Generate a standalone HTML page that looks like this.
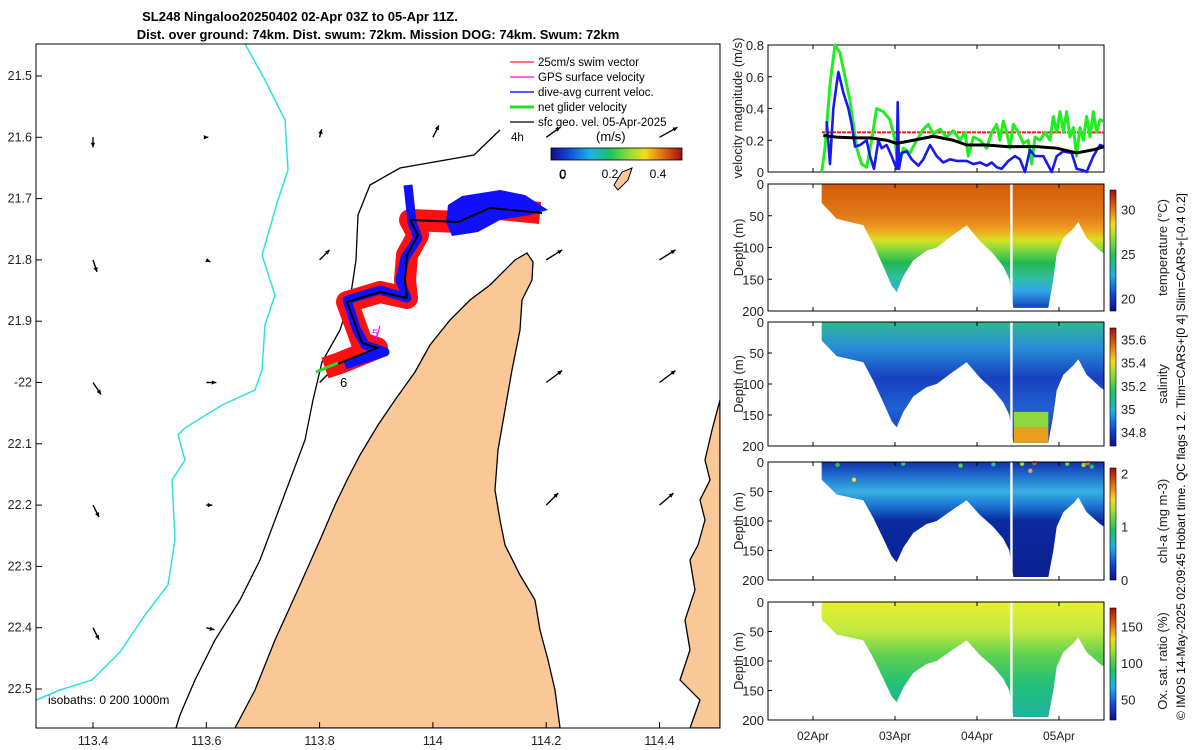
<!DOCTYPE html>
<html><head><meta charset="utf-8"><style>
html,body{margin:0;padding:0;background:#fff;}
svg{display:block;font-family:"Liberation Sans",sans-serif;}
</style></head><body>
<svg id="fig" width="1200" height="750" viewBox="0 0 1200 750" xmlns="http://www.w3.org/2000/svg">
<defs>
<linearGradient id="gT" gradientUnits="userSpaceOnUse" x1="0" y1="184" x2="0" y2="311">
<stop offset="0" stop-color="#d25a08"/><stop offset="0.25" stop-color="#e07a18"/><stop offset="0.36" stop-color="#f0a020"/><stop offset="0.44" stop-color="#d8e020"/><stop offset="0.52" stop-color="#80d840"/><stop offset="0.62" stop-color="#20b850"/><stop offset="0.74" stop-color="#30c0a0"/><stop offset="0.84" stop-color="#30a8e8"/><stop offset="1" stop-color="#1030b0"/></linearGradient>
<linearGradient id="gS" gradientUnits="userSpaceOnUse" x1="0" y1="322" x2="0" y2="446">
<stop offset="0" stop-color="#30b890"/><stop offset="0.2" stop-color="#2890d8"/><stop offset="0.45" stop-color="#1840c0"/><stop offset="0.7" stop-color="#2060d0"/><stop offset="1" stop-color="#1838b8"/></linearGradient>
<linearGradient id="gC" gradientUnits="userSpaceOnUse" x1="0" y1="462" x2="0" y2="580">
<stop offset="0" stop-color="#1030a8"/><stop offset="0.12" stop-color="#2070d0"/><stop offset="0.25" stop-color="#38b0e0"/><stop offset="0.35" stop-color="#2080d8"/><stop offset="0.5" stop-color="#0c2aa0"/><stop offset="1" stop-color="#0a1e90"/></linearGradient>
<linearGradient id="gO" gradientUnits="userSpaceOnUse" x1="0" y1="602" x2="0" y2="720">
<stop offset="0" stop-color="#e8f030"/><stop offset="0.25" stop-color="#c0e840"/><stop offset="0.45" stop-color="#60d050"/><stop offset="0.7" stop-color="#20c078"/><stop offset="1" stop-color="#20b0a0"/></linearGradient>
<linearGradient id="jet" x1="0" y1="1" x2="0" y2="0">
<stop offset="0" stop-color="#10108a"/><stop offset="0.12" stop-color="#1040d0"/><stop offset="0.3" stop-color="#20b0e8"/><stop offset="0.45" stop-color="#20c060"/><stop offset="0.62" stop-color="#a0e030"/><stop offset="0.72" stop-color="#f8d820"/><stop offset="0.85" stop-color="#e07010"/><stop offset="1" stop-color="#a01010"/></linearGradient>
<linearGradient id="jeth" x1="0" y1="0" x2="1" y2="0">
<stop offset="0" stop-color="#10108a"/><stop offset="0.12" stop-color="#1040d0"/><stop offset="0.3" stop-color="#20b0e8"/><stop offset="0.45" stop-color="#20c060"/><stop offset="0.62" stop-color="#a0e030"/><stop offset="0.72" stop-color="#f8d820"/><stop offset="0.85" stop-color="#e07010"/><stop offset="1" stop-color="#a01010"/></linearGradient>
<clipPath id="mapclip"><rect x="36" y="44" width="684" height="684"/></clipPath>
</defs>

<text x="300" y="21" font-size="13" font-weight="bold" text-anchor="middle">SL248 Ningaloo20250402 02-Apr 03Z to 05-Apr 11Z.</text>
<text x="378" y="39" font-size="13" font-weight="bold" text-anchor="middle">Dist. over ground: 74km. Dist. swum: 72km. Mission DOG: 74km. Swum: 72km</text>

<g id="map" clip-path="url(#mapclip)">
<polygon fill="#f9c896" stroke="#000" stroke-width="1.3" points="235,728 255,690 275,640 300,585 320,540 335,505 348,478 360,455 378,425 395,400 415,372 430,345 450,320 470,300 490,285 505,270 515,260 527,253 533,262 532,280 522,300 520,330 512,370 505,410 498,450 495,490 500,520 505,545 520,575 535,600 540,630 548,660 555,690 560,728"/>
<polygon fill="#f9c896" stroke="#000" stroke-width="1.3" points="720,400 712,430 705,460 710,480 700,500 705,520 698,545 690,560 695,590 685,620 690,650 680,680 700,700 690,728 720,728"/>
<polygon fill="#f9c896" stroke="#000" stroke-width="1" points="614,185 622,172 632,168 628,180 618,190"/>
<polyline fill="none" stroke="#000" stroke-width="1.3" points="500,130 474,155 400,168 370,185 358,215 356,260 350,300 340,330 322,362 313,400 305,440 290,480 275,520 260,560 240,600 215,640 195,680 180,715 176,728"/>
<polyline fill="none" stroke="#30e0e0" stroke-width="1.5" points="245,44 265,80 285,120 288,170 278,200 262,255 275,295 265,325 262,370 255,390 222,405 185,428 178,435 185,460 172,480 175,540 168,585 145,615 120,652 92,680 60,690 36,700"/>
<g id="arrows"></g>
<g id="track">
<polyline fill="none" stroke="#ff1010" stroke-width="22" stroke-linejoin="round" points="540,213 490,208 458,222 410,220 418,235 407,255 405,280 407,298 380,292 347,302 350,310 362,343 377,348 340,363 325,368"/>
<polygon fill="#1010ff" points="448,205 462,196 500,190 525,195 548,210 530,215 500,220 478,232 452,236 446,222"/>
<polyline fill="none" stroke="#1010ff" stroke-width="9" stroke-linejoin="round" points="408,185 412,222 418,238 405,258 400,280 407,298 380,290 347,300 356,328 365,345 385,352 345,365"/>
<polyline fill="none" stroke="#000" stroke-width="2" points="542,213 490,208 458,222 410,220 418,235 407,255 405,280 407,298 380,292 347,302 350,310 362,343 377,348 340,363 322,370"/>
<line x1="338" y1="363" x2="316" y2="372" stroke="#20e020" stroke-width="3"/>
<line x1="376" y1="340" x2="380" y2="326" stroke="#ff00ff" stroke-width="1.2"/>
<text x="559" y="179" font-size="13">0</text>
<text x="372" y="337" font-size="11" fill="#ff00ff">5</text>
<text x="340" y="387" font-size="13">6</text>
</g>
<g font-size="11.5">
<line x1="510" y1="62" x2="534" y2="62" stroke="#ff2020" stroke-width="1.2"/><text x="538" y="66">25cm/s swim vector</text>
<line x1="510" y1="77" x2="534" y2="77" stroke="#ff00ff" stroke-width="1.2"/><text x="538" y="81">GPS surface velocity</text>
<line x1="510" y1="92" x2="534" y2="92" stroke="#2020ff" stroke-width="1.5"/><text x="538" y="96">dive-avg current veloc.</text>
<line x1="510" y1="107" x2="534" y2="107" stroke="#20e020" stroke-width="3"/><text x="538" y="111">net glider velocity</text>
<line x1="510" y1="122" x2="534" y2="122" stroke="#000" stroke-width="1.2"/><text x="538" y="126">sfc geo. vel. 05-Apr-2025</text>
<text x="511" y="141">4h</text>
<text x="596" y="141" font-size="13">(m/s)</text>
<rect x="551" y="148" width="131" height="12" fill="url(#jeth)" stroke="#000" stroke-width="0.8"/>
<text x="563" y="178" text-anchor="middle" font-size="12">0</text>
<text x="610" y="178" text-anchor="middle" font-size="12">0.2</text>
<text x="658" y="178" text-anchor="middle" font-size="12">0.4</text>
</g>
<text x="48" y="704" font-size="12">isobaths: 0   200  1000m</text>
</g>
<rect x="36" y="44" width="684" height="684" fill="none" stroke="#000" stroke-width="1"/>
<g id="mapticks" font-size="12.5" fill="#222"></g>

<g id="right"></g>
<text transform="translate(1185,720) rotate(-90)" font-size="12">© IMOS 14-May-2025 02:09:45 Hobart time. QC flags 1  2. Tlim=CARS+[0 4] Slim=CARS+[-0.4 0.2]</text>
</svg>
<script>
const NS="http://www.w3.org/2000/svg";
function mk(tag,attrs,parent){const e=document.createElementNS(NS,tag);for(const k in attrs)e.setAttribute(k,attrs[k]);parent.appendChild(e);return e;}
const lonTicks=[113.4,113.6,113.8,114,114.2,114.4];
const latTicks=[21.5,21.6,21.7,21.8,21.9,22,22.1,22.2,22.3,22.4,22.5];
const latLabels=["21.5","21.6","21.7","21.8","21.9","-22","22.1","22.2","22.3","22.4","22.5"];
const lonX=v=>93+(v-113.4)/0.2*113.3;
const latY=v=>76+(v-21.5)/0.1*61.3;
const mt=document.getElementById('mapticks');
lonTicks.forEach(v=>{const x=lonX(v);
 const l=mk('line',{x1:x,y1:728,x2:x,y2:722,stroke:'#000'},mt);
 const t=mk('text',{x:x,y:745,'text-anchor':'middle'},mt);t.textContent=String(v);});
latTicks.forEach((v,i)=>{const y=latY(v);
 const l=mk('line',{x1:36,y1:y,x2:42,y2:y,stroke:'#000'},mt);
 const t=mk('text',{x:32,y:y+4,'text-anchor':'end'},mt);t.textContent=latLabels[i];});
const arrLon=[113.4,113.6,113.8,114,114.2,114.4, 113.4,113.6,113.8,114.2,114.4, 113.4,113.6,113.8,114.2,114.4, 113.4,113.6,114.2,114.4, 113.4,113.6];
const arrLat=[21.6,21.6,21.6,21.6,21.6,21.6, 21.8,21.8,21.8,21.8,21.8, 22.0,22.0,22.0,22.0,22.0, 22.2,22.2,22.2,22.2, 22.4,22.4];
const arrU=[0,0.1,0.1,0.3,0.7,0.9, 0.2,0.2,0.5,0.8,0.8, 0.4,0.5,0.6,0.8,0.8, 0.3,0.3,0.6,0.7, 0.3,0.4];
const arrV=[-0.5,0,0.4,0.6,0.5,0.5, -0.6,-0.1,0.5,0.5,0.5, -0.6,0,0.6,0.6,0.6, -0.6,0,0.6,0.6, -0.6,-0.1];
const ag=document.getElementById('arrows');
for(let i=0;i<arrLat.length;i++){const x=lonX(arrLon[i]),y=latY(arrLat[i]);const s=20;
 const x2=x+arrU[i]*s,y2=y-arrV[i]*s;
 const l=mk('line',{x1:x,y1:y,x2:x2,y2:y2,stroke:'#000','stroke-width':1.4},ag);
 const a=Math.atan2(y2-y,x2-x);const h=5;
 const p=mk('polygon',{points:`${x2},${y2} ${x2-h*Math.cos(a-0.45)},${y2-h*Math.sin(a-0.45)} ${x2-h*Math.cos(a+0.45)},${y2-h*Math.sin(a+0.45)}`,fill:'#000'},ag);}

const dayTicks=[1,2,3,4];
const dayLabels=["02Apr","03Apr","04Apr","05Apr"];
const greenT=[1.106,1.146,1.207,1.268,1.329,1.39,1.451,1.492,1.533,1.593,1.654,1.715,1.776,1.858,1.939,2.0,2.041,2.102,2.183,2.264,2.346,2.407,2.467,2.549,2.63,2.711,2.793,2.854,2.894,2.955,3.037,3.118,3.179,3.24,3.28,3.321,3.362,3.402,3.443,3.504,3.565,3.626,3.667,3.707,3.768,3.829,3.89,3.931,3.972,4.012,4.053,4.093,4.134,4.175,4.215,4.256,4.297,4.337,4.378,4.419,4.459,4.5,4.541];
const greenV=[0,0.15,0.55,0.8,0.75,0.6,0.45,0.3,0.15,0.05,0.03,0.2,0.4,0.38,0.33,0.2,0.02,0.15,0.12,0.2,0.27,0.3,0.24,0.27,0.22,0.26,0.2,0.25,0.1,0.22,0.2,0.15,0.25,0.3,0.2,0.32,0.25,0.15,0.3,0.25,0.18,0.2,0.05,0.22,0.2,0.25,0.2,0.35,0.25,0.38,0.25,0.38,0.22,0.28,0.1,0.28,0.2,0.35,0.22,0.38,0.25,0.33,0.32];
const blueT=[1.167,1.207,1.248,1.309,1.37,1.431,1.472,1.512,1.573,1.654,1.695,1.744,1.797,1.837,1.898,1.959,2.02,2.033,2.049,2.081,2.142,2.203,2.285,2.346,2.427,2.508,2.589,2.671,2.752,2.874,2.955,3.037,3.118,3.179,3.24,3.301,3.382,3.463,3.524,3.585,3.646,3.707,3.809,3.911,3.972,4.053,4.154,4.215,4.297,4.337,4.419,4.5,4.553];
const blueV=[0.32,0.05,0.4,0.63,0.5,0.4,0.3,0.16,0.17,0.2,0.1,0.02,0.2,0.15,0.17,0.1,0.02,0.44,0.02,0.12,0.13,0.08,0.04,0.08,0.17,0.1,0.06,0.08,0.07,0.07,0.05,0.06,0.04,0.06,0.03,0.02,0.07,0.1,0.08,0,0.14,0.1,0.1,0,0.1,0.13,0.12,0.02,0.01,0,0.1,0.17,0.16];
const blackT=[1.126,1.289,1.492,1.695,1.898,2.02,2.224,2.467,2.711,2.874,3.118,3.362,3.728,3.972,4.215,4.419,4.553];
const blackV=[0.23,0.22,0.215,0.215,0.2,0.18,0.2,0.225,0.2,0.17,0.17,0.16,0.16,0.15,0.12,0.14,0.16];
const swimT=[1.11,4.55];
const swimV=[0.25,0.25];
const profT=[1.106,1.289,1.614,1.736,1.858,1.959,2.02,2.102,2.224,2.386,2.508,2.711,2.874,3.037,3.199,3.321,3.394,3.443,3.87,3.931,3.972,4.053,4.175,4.236,4.337,4.5,4.553];
const profD=[30,55,65,95,130,160,170,145,120,105,100,80,65,90,110,130,150,195,195,150,110,85,70,60,85,105,110];
const gapT=3.42;
const chlDotT=[1.3,1.5,2.1,2.8,3.2,3.55,3.65,3.7,4.1,4.3,4.35,4.4];
const chlDotD=[5,30,3,6,4,3,15,2,3,5,2,8];
const chlDotC=["#20c060","#f8d820","#20c0a0","#60d040","#20c0a0","#a0e030","#f8a020","#e05010","#60d040","#a0e030","#e07010","#20c060"];

const X0=768,X1=1104;
const tx=t=>813+(t-1)*82;
const R=document.getElementById('right');
function panel(name,top,bot){const r=mk('rect',{x:X0,y:top,width:X1-X0,height:bot-top,fill:'none',stroke:'#000','stroke-width':1},R);
 dayTicks.forEach(d=>{const x=tx(d);const l=mk('line',{x1:x,y1:bot,x2:x,y2:bot-4,stroke:'#000'},R);
  const l2=mk('line',{x1:x,y1:top,x2:x,y2:top+4,stroke:'#000'},R);});}
function yticks(name,top,bot,vals,lo,hi,labels){vals.forEach((v,i)=>{const y=top+(v-lo)/(hi-lo)*(bot-top);
 const l=mk('line',{x1:X0,y1:y,x2:X0+4,y2:y,stroke:'#000'},R);
 const t=mk('text',{x:X0-4,y:y+5,'text-anchor':'end','font-size':13,fill:'#222'},R);t.textContent=labels[i];});}
function ylab(name,text,x,y){const t=mk('text',{transform:`translate(${x},${y}) rotate(-90)`,'text-anchor':'middle','font-size':13,fill:'#222'},R);t.textContent=text;}

const vTop=45,vBot=172;const vy=v=>vBot-v/0.8*(vBot-vTop);
panel('velocity',vTop,vBot);
yticks('velocity',vTop,vBot,[0.8,0.6,0.4,0.2,0],0.8,0,["0.8","0.6","0.4","0.2","0"]);
ylab('velocity-y-axis-title','velocity magnitude (m/s)',742,108);
function line(name,T,V,col,w,dash){const p=mk('polyline',{points:T.map((t,i)=>tx(t)+','+vy(V[i])).join(' '),fill:'none',stroke:col,'stroke-width':w,'stroke-linejoin':'round'},R);if(dash)p.setAttribute('stroke-dasharray',dash);}
line('swim-speed-line',swimT,swimV,'#ff1010',2,'4 1');
line('net-velocity-line',greenT,greenV,'#20ee20',3);
line('dive-current-line',blueT,blueV,'#1818f0',2.6);
line('geo-velocity-line',blackT,blackV,'#000',3);

const secs=[
 {n:'temperature',top:184,bot:311,fill:'url(#gT)',ticks:[30,25,20],lo:32.2,hi:18.6,lab:['30','25','20'],title:'temperature (°C)'},
 {n:'salinity',top:322,bot:446,fill:'url(#gS)',ticks:[35.6,35.4,35.2,35,34.8],lo:35.7,hi:34.68,lab:['35.6','35.4','35.2','35','34.8'],title:'salinity'},
 {n:'chl-a',top:462,bot:580,fill:'url(#gC)',ticks:[2,1,0],lo:2.1,hi:0,lab:['2','1','0'],title:'chl-a (mg m-3)'},
 {n:'oxygen',top:602,bot:720,fill:'url(#gO)',ticks:[150,100,50],lo:175,hi:22,lab:['150','100','50'],title:'Ox. sat. ratio (%)'}];
const depthTicks=[0,50,100,150,200];
secs.forEach(s=>{
 const dy=d=>s.top+d/200*(s.bot-s.top);
 let pts=tx(profT[0])+','+dy(0)+' '+tx(profT[profT.length-1])+','+dy(0)+' ';
 for(let i=profT.length-1;i>=0;i--)pts+=tx(profT[i])+','+dy(profD[i])+' ';
 const p=mk('polygon',{points:pts,fill:s.fill},R);
 if(s.n==='salinity'){const r=mk('rect',{x:tx(3.45),y:dy(170),width:tx(3.87)-tx(3.45),height:dy(195)-dy(170),fill:'#e8a020'},R);
  const r2=mk('rect',{x:tx(3.45),y:dy(145),width:tx(3.87)-tx(3.45),height:dy(170)-dy(145),fill:'#90d840'},R);}
 if(s.n==='chl-a'){chlDotT.forEach((t,i)=>{const c=mk('circle',{cx:tx(t),cy:dy(chlDotD[i]),r:2.2,fill:chlDotC[i]},R);});}
 const g=mk('rect',{x:tx(gapT)-1.2,y:s.top,width:2.4,height:s.bot-s.top,fill:'#fff'},R);
 panel(s.n,s.top,s.bot);
 yticks(s.n,s.top,s.bot,depthTicks,0,200,depthTicks.map(String));
 ylab(s.n+'-y-axis-title','Depth (m)',743,(s.top+s.bot)/2);
 const cb=mk('rect',{x:1110,y:s.top+6,width:6,height:s.bot-s.top-6,fill:'url(#jet)',stroke:'#000','stroke-width':0.6},R);
 s.ticks.forEach((v,i)=>{const y=s.top+6+(v-s.lo)/(s.hi-s.lo)*(s.bot-s.top-6);
  const t=mk('text',{x:1121,y:y+5,'font-size':13,fill:'#222'},R);t.textContent=s.lab[i];});
 ylab(s.n+'-colorbar-title',s.title,1167,(s.top+s.bot)/2);
});
dayTicks.forEach((d,i)=>{const t=mk('text',{x:tx(d),y:740,'text-anchor':'middle','font-size':12,fill:'#222'},R);t.textContent=dayLabels[i];});
</script>
</body></html>
